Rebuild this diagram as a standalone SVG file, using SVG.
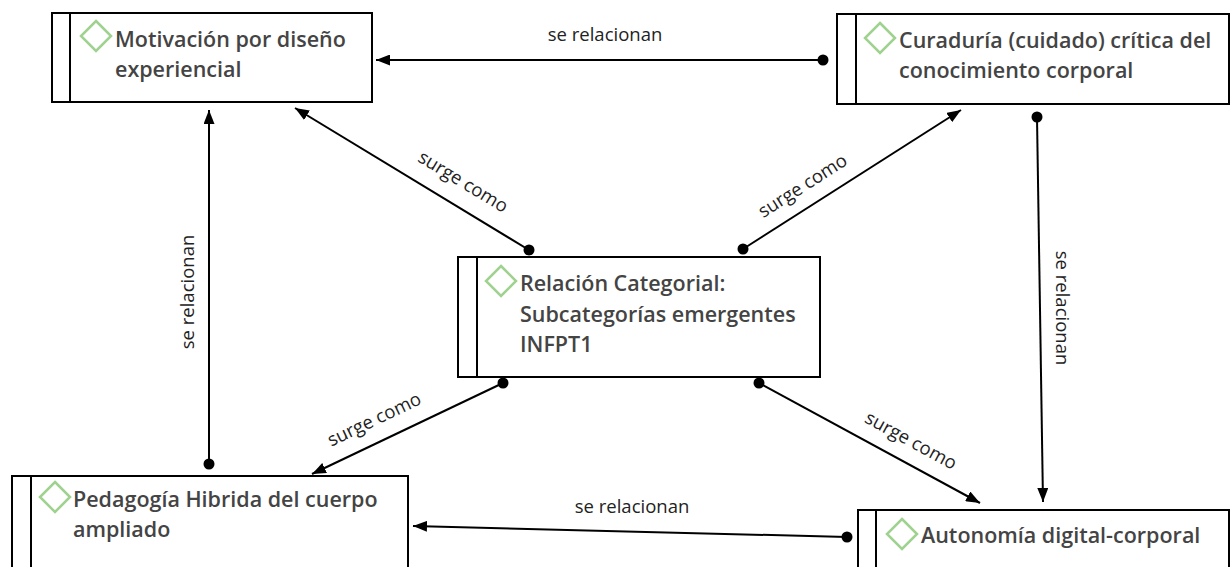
<svg xmlns="http://www.w3.org/2000/svg" width="1230" height="567" viewBox="0 0 1230 567">
<style>
.box{fill:#fff;stroke:#000;stroke-width:2}
.bar{stroke:#000;stroke-width:2}
.dia{fill:none;stroke:#9fd28e;stroke-width:2.5}
.nt{font-family:"Open Sans","Noto Sans",sans-serif;font-size:21.5px;font-weight:600;fill:#444}
.lb{font-family:"Open Sans","Noto Sans",sans-serif;font-size:18.5px;fill:#222;text-anchor:middle}
.ln{stroke:#000;stroke-width:2;fill:none;marker-start:url(#dot);marker-end:url(#arr)}
</style>
<defs>
<marker id="arr" viewBox="0 0 14 11" refX="14" refY="5.5" markerWidth="14" markerHeight="11" markerUnits="userSpaceOnUse" orient="auto"><path d="M0,0 L14,5.5 L0,11 Z" fill="#000"/></marker>
<marker id="dot" viewBox="0 0 12 12" refX="6" refY="6" markerWidth="12" markerHeight="12" markerUnits="userSpaceOnUse"><circle cx="6" cy="6" r="5.5" fill="#000"/></marker>
</defs>
<g id="connectors">
<line class="ln" x1="823" y1="60" x2="376" y2="60"/>
<text class="lb" x="605" y="41">se relacionan</text>
<line class="ln" x1="529" y1="250" x2="295" y2="108"/>
<text class="lb" transform="translate(460,187) rotate(31.2)">surge como</text>
<line class="ln" x1="743" y1="249" x2="961" y2="110"/>
<text class="lb" transform="translate(806,191) rotate(-32.5)">surge como</text>
<line class="ln" x1="209" y1="464" x2="209" y2="110"/>
<text class="lb" transform="translate(194,292) rotate(-90)">se relacionan</text>
<line class="ln" x1="1037" y1="117" x2="1043" y2="502"/>
<text class="lb" transform="translate(1056,308) rotate(90)">se relacionan</text>
<line class="ln" x1="503" y1="383" x2="312" y2="474"/>
<text class="lb" transform="translate(377,425) rotate(-25.5)">surge como</text>
<line class="ln" x1="759" y1="383" x2="980" y2="503"/>
<text class="lb" transform="translate(908,446) rotate(28.5)">surge como</text>
<line class="ln" x1="847" y1="537" x2="413" y2="526"/>
<text class="lb" x="632" y="513">se relacionan</text>
</g>
<g id="n1">
<rect class="box" x="52" y="13" width="320" height="89"/>
<line class="bar" x1="70" y1="13" x2="70" y2="102"/>
<path class="dia" d="M96,21 L111,36 L96,51 L81,36 Z"/>
<text class="nt" x="115" y="47">Motivación por diseño</text>
<text class="nt" x="115" y="77">experiencial</text>
</g>
<g id="n2">
<rect class="box" x="837" y="14" width="392" height="90"/>
<line class="bar" x1="856" y1="14" x2="856" y2="104"/>
<path class="dia" d="M880,23 L895,38 L880,53 L865,38 Z"/>
<text class="nt" x="899" y="48">Curaduría (cuidado) crítica del</text>
<text class="nt" x="899" y="78">conocimiento corporal</text>
</g>
<g id="n3">
<rect class="box" x="458" y="257" width="362" height="120"/>
<line class="bar" x1="477" y1="257" x2="477" y2="377"/>
<path class="dia" d="M501,266 L516,281 L501,296 L486,281 Z"/>
<text class="nt" x="520" y="291">Relación Categorial:</text>
<text class="nt" x="520" y="322">Subcategorías emergentes</text>
<text class="nt" x="520" y="352">INFPT1</text>
</g>
<g id="n4">
<rect class="box" x="12" y="476" width="396" height="100"/>
<line class="bar" x1="31" y1="476" x2="31" y2="576"/>
<path class="dia" d="M55,482 L70,497 L55,512 L40,497 Z"/>
<text class="nt" x="73" y="507">Pedagogía Hibrida del cuerpo</text>
<text class="nt" x="73" y="537">ampliado</text>
</g>
<g id="n5">
<rect class="box" x="858" y="510" width="371" height="70"/>
<line class="bar" x1="876" y1="510" x2="876" y2="580"/>
<path class="dia" d="M902,519 L917,534 L902,549 L887,534 Z"/>
<text class="nt" x="921" y="543">Autonomía digital-corporal</text>
</g>
</svg>
